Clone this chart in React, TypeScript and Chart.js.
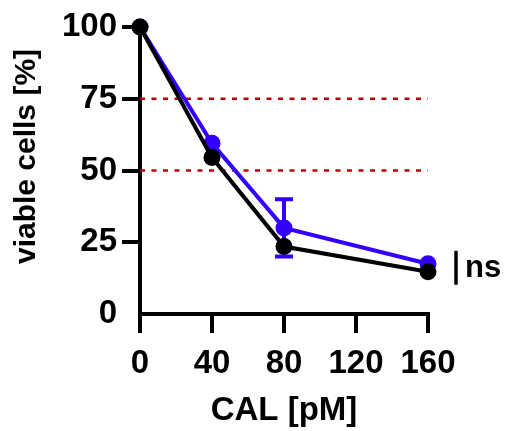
import React, { useEffect, useRef } from "react";
import { Chart, registerables } from "chart.js";

Chart.register(...registerables);

// ---- data ----
const doses = [0, 40, 80, 160];
const blackValues = [100, 54.5, 23.5, 14.7];
const blueValues = [100, 59.5, 30, 17.5];
const blueErrors = [0, 0, 10, 0];
const refLevels = [75, 50];
const xTickValues = [0, 40, 80, 120, 160];
const yTickValues = [0, 25, 50, 75, 100];
const xTitle = "CAL [pM]";
const yTitle = "viable cells [%]";
const sigLabel = "ns";

const FONT = "'Liberation Sans', Arial, Helvetica, sans-serif";
const BLACK = "#000000";
const BLUE = "#3300ff";
const RED = "#c00000";

const errorBarPlugin = {
  id: "errorBars",
  beforeDatasetsDraw(chart: any) {
    const xs = chart.scales.x;
    const ys = chart.scales.y;
    const ctx = chart.ctx;
    ctx.save();
    ctx.strokeStyle = BLUE;
    doses.forEach((d, i) => {
      const e = blueErrors[i];
      if (!e) return;
      const x = xs.getPixelForValue(d);
      const yTop = ys.getPixelForValue(blueValues[i] + e);
      const yBot = ys.getPixelForValue(blueValues[i] - e);
      ctx.lineWidth = 4;
      ctx.beginPath();
      ctx.moveTo(x, yTop);
      ctx.lineTo(x, yBot);
      ctx.stroke();
      ctx.lineWidth = 4;
      ctx.beginPath();
      ctx.moveTo(x - 9, yTop);
      ctx.lineTo(x + 9, yTop);
      ctx.moveTo(x - 9, yBot);
      ctx.lineTo(x + 9, yBot);
      ctx.stroke();
    });
    ctx.restore();
  },
};

const annotationPlugin = {
  id: "annot",
  afterDraw(chart: any) {
    const xs = chart.scales.x;
    const ys = chart.scales.y;
    const ctx = chart.ctx;
    const last = doses.length - 1;
    const x = xs.getPixelForValue(doses[last]) + 28;
    const yc = ys.getPixelForValue((blackValues[last] + blueValues[last]) / 2);
    ctx.save();
    ctx.strokeStyle = BLACK;
    ctx.lineWidth = 3.5;
    ctx.beginPath();
    ctx.moveTo(x, yc - 17);
    ctx.lineTo(x, yc + 17);
    ctx.stroke();
    ctx.fillStyle = BLACK;
    ctx.font = `bold 31px ${FONT}`;
    ctx.textAlign = "left";
    ctx.textBaseline = "middle";
    ctx.fillText(sigLabel, x + 9, yc + 1);

    // y-axis title
    const ca = chart.chartArea;
    ctx.translate(27, (ca.top + ca.bottom) / 2 - 14);
    ctx.rotate(-Math.PI / 2);
    ctx.font = `bold 30px ${FONT}`;
    ctx.textAlign = "center";
    ctx.textBaseline = "middle";
    ctx.fillText(yTitle, 0, 0);
    ctx.restore();
  },
};

export default function App() {
  const ref = useRef<HTMLCanvasElement | null>(null);

  useEffect(() => {
    document.body.style.margin = "0";
    const canvas = ref.current;
    if (!canvas) return;

    const refDatasets = refLevels.map((lvl) => ({
      label: `ref ${lvl}`,
      data: [
        { x: xTickValues[0], y: lvl },
        { x: xTickValues[xTickValues.length - 1], y: lvl },
      ],
      borderColor: RED,
      borderWidth: 2.5,
      borderDash: [5, 6.5],
      pointRadius: 0,
      fill: false,
    }));

    const chart = new Chart(canvas, {
      type: "line",
      data: {
        datasets: [
          {
            label: "black",
            data: doses.map((d, i) => ({ x: d, y: blackValues[i] })),
            borderColor: BLACK,
            backgroundColor: BLACK,
            borderWidth: 4,
            pointRadius: 8.5,
            pointBorderWidth: 0,
            pointBackgroundColor: BLACK,
            clip: false,
          },
          {
            label: "blue",
            data: doses.map((d, i) => ({ x: d, y: blueValues[i] })),
            borderColor: BLUE,
            backgroundColor: BLUE,
            borderWidth: 4,
            pointRadius: 8.5,
            pointBorderWidth: 0,
            pointBackgroundColor: BLUE,
            clip: false,
          },
          ...refDatasets,
        ] as any,
      },
      options: {
        responsive: false,
        animation: false,
        devicePixelRatio: 1,
        layout: { padding: { top: 27, right: 80, left: 0, bottom: 0 } },
        plugins: {
          legend: { display: false },
          tooltip: { enabled: false },
        },
        scales: {
          x: {
            type: "linear",
            min: xTickValues[0],
            max: xTickValues[xTickValues.length - 1],
            afterBuildTicks: (s: any) => {
              s.ticks = xTickValues.map((v) => ({ value: v }));
            },
            afterFit: (s: any) => {
              s.height = 117;
            },
            ticks: {
              color: BLACK,
              font: { family: FONT, size: 33, weight: "bold" },
              padding: 11,
              maxRotation: 0,
            },
            grid: {
              drawOnChartArea: false,
              drawTicks: true,
              tickLength: 19,
              lineWidth: 4,
              tickWidth: 4,
              color: BLACK,
              tickColor: BLACK,
            },
            border: { display: true, width: 4, color: BLACK },
            title: {
              display: true,
              text: xTitle,
              color: BLACK,
              font: { family: FONT, size: 33, weight: "bold" },
              padding: { top: 0, bottom: 0 },
            },
          },
          y: {
            type: "linear",
            min: yTickValues[0],
            max: yTickValues[yTickValues.length - 1],
            afterBuildTicks: (s: any) => {
              s.ticks = yTickValues.map((v) => ({ value: v }));
            },
            afterFit: (s: any) => {
              s.width = 140;
            },
            ticks: {
              color: BLACK,
              font: { family: FONT, size: 33, weight: "bold" },
              padding: 5,
            },
            grid: {
              drawOnChartArea: false,
              drawTicks: true,
              tickLength: 18,
              lineWidth: 4,
              tickWidth: 4,
              color: BLACK,
              tickColor: (c: any) => (c.tick && c.tick.value === 0 ? "rgba(0,0,0,0)" : BLACK),
            },
            border: { display: true, width: 4, color: BLACK },
          },
        },
      } as any,
      plugins: [errorBarPlugin, annotationPlugin],
    });

    return () => chart.destroy();
  }, []);

  return <canvas ref={ref} width={508} height={431} style={{ display: "block" }} />;
}
